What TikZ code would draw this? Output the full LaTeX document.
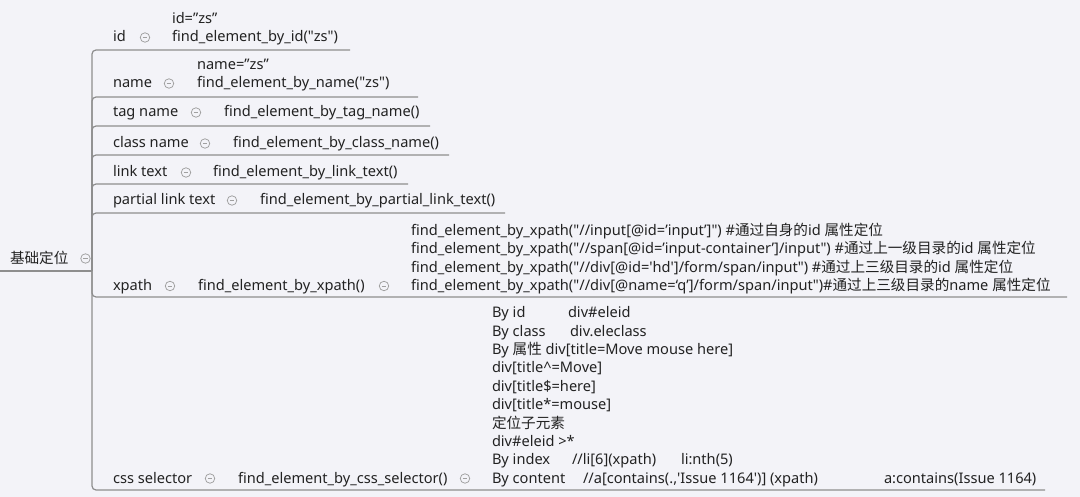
\documentclass[tikz,border=0pt]{standalone}
\usepackage{fontspec}
\setmainfont{Noto Sans}[Ligatures={TeX,NoCommon}]
\newfontfamily\zhfont{Noto Sans CJK SC}
\newcommand{\zh}[1]{{\zhfont #1}}
\newcommand{\dq}{\textquotedbl}
\definecolor{bgc}{HTML}{F3F3F8}
\definecolor{lnc}{HTML}{8E8E8E}
\definecolor{txc}{HTML}{222222}
\definecolor{cgc}{HTML}{A0A0A0}
\begin{document}
\begin{tikzpicture}[x=1pt,y=-1pt,
  txt/.style={anchor=base west, inner sep=0pt, outer sep=0pt, text=txc, font=\fontsize{14.6}{18}\selectfont},
  conn/.style={draw=lnc, line width=1.2pt, rounded corners=4pt},
  fold/.style={circle, draw=cgc, line width=0.75pt, minimum size=9.5pt, inner sep=0pt,
    path picture={\draw[cgc, line width=0.75pt] ([xshift=-2.4pt]path picture bounding box.center) -- ([xshift=2.4pt]path picture bounding box.center);}},
]
\useasboundingbox (0,0) rectangle (1080,497);
\fill[bgc] (0,0) rectangle (1080,497);

% root
\node[txt] (root) at (10,264) {\zh{基础定位}};
\node[fold] (rootf) at (85.5,258.5) {};
\coordinate (R0) at (0,271);
\coordinate (J) at (92,271);

% branch end coordinates
\coordinate (idE) at (350,50);
\coordinate (nameE) at (418,97);
\coordinate (tagE) at (430,126);
\coordinate (classE) at (449,155);
\coordinate (linkE) at (408,184);
\coordinate (partE) at (505,213);
\coordinate (xpathE) at (1067,297);
\coordinate (cssE) at (1045,490);

\draw[conn] (R0) -- (J);
\foreach \e in {idE,nameE,tagE,classE,linkE,partE,xpathE,cssE}
  \draw[conn] (J) |- (\e);

% id
\node[txt] (id) at (113,42) {id};
\node[fold] (idf) at (145,37.5) {};
\node[txt] (idv) at (172,23.7) {id=”zs”};
\node[txt] (idm) at (172,42) {find\_element\_by\_id(\dq zs\dq)};

% name
\node[txt] (name) at (113,88) {name};
\node[fold] (namef) at (169,83.5) {};
\node[txt] (namev) at (197,69.7) {name=”zs”};
\node[txt] (namem) at (197,88) {find\_element\_by\_name(\dq zs\dq)};

% tag name
\node[txt] (tag) at (113,117) {tag name};
\node[fold] (tagf) at (196,112.5) {};
\node[txt] (tagm) at (224,117) {find\_element\_by\_tag\_name()};

% class name
\node[txt] (class) at (113,148) {class name};
\node[fold] (classf) at (205,143.5) {};
\node[txt] (classm) at (233,148) {find\_element\_by\_class\_name()};

% link text
\node[txt] (link) at (113,177) {link text};
\node[fold] (linkf) at (186,172.5) {};
\node[txt] (linkm) at (213,177) {find\_element\_by\_link\_text()};

% partial link text
\node[txt] (part) at (113,205) {partial link text};
\node[fold] (partf) at (232,200.5) {};
\node[txt] (partm) at (260,205) {find\_element\_by\_partial\_link\_text()};

% xpath
\node[txt] (xpath) at (113,290.5) {xpath};
\node[fold] (xpathf) at (170,286) {};
\node[txt] (xpathm) at (198,290.5) {find\_element\_by\_xpath()};
\node[fold] (xpathmf) at (384,286) {};
\node[txt] (x1) at (411,235.5) {find\_element\_by\_xpath(\dq//input[@id=’input’]\dq) \#\zh{通过自身的}id \zh{属性定位}};
\node[txt] (x2) at (411,253.8) {find\_element\_by\_xpath(\dq//span[@id=’input-container’]/input\dq) \#\zh{通过上一级目录的}id \zh{属性定位}};
\node[txt] (x3) at (411,272.2) {find\_element\_by\_xpath(\dq//div[@id=\textquotesingle hd\textquotesingle]/form/span/input\dq) \#\zh{通过上三级目录的}id \zh{属性定位}};
\node[txt] (x4) at (411,290.5) {find\_element\_by\_xpath(\dq//div[@name=‘q’]/form/span/input\dq)\#\zh{通过上三级目录的}name \zh{属性定位}};

% css selector
\node[txt] (css) at (113,483) {css selector};
\node[fold] (cssf) at (210,478.5) {};
\node[txt] (cssm) at (238,483) {find\_element\_by\_css\_selector()};
\node[fold] (cssmf) at (465,478.5) {};
\node[txt] (c1a) at (492,318) {By id};
\node[txt] (c1b) at (568,318) {div\#eleid};
\node[txt] (c2a) at (492,336.3) {By class};
\node[txt] (c2b) at (570,336.3) {div.eleclass};
\node[txt] (c3) at (492,354.7) {By \zh{属性} div[title=Move mouse here]};
\node[txt] (c4) at (492,373) {div[title\textasciicircum=Move]};
\node[txt] (c5) at (492,391.3) {div[title\$=here]};
\node[txt] (c6) at (492,409.7) {div[title*=mouse]};
\node[txt] (c7) at (492,428) {\zh{定位子元素}};
\node[txt] (c8) at (492,446.3) {div\#eleid >*};
\node[txt] (c9a) at (492,464.7) {By index};
\node[txt] (c9b) at (572,464.7) {//li[6](xpath)};
\node[txt] (c9c) at (681,464.7) {li:nth(5)};
\node[txt] (c10a) at (492,483) {By content};
\node[txt] (c10b) at (583,483) {//a[contains(.,\textquotesingle Issue 1164\textquotesingle)] (xpath)};
\node[txt] (c10c) at (884,483) {a:contains(Issue 1164)};
\end{tikzpicture}
\end{document}
